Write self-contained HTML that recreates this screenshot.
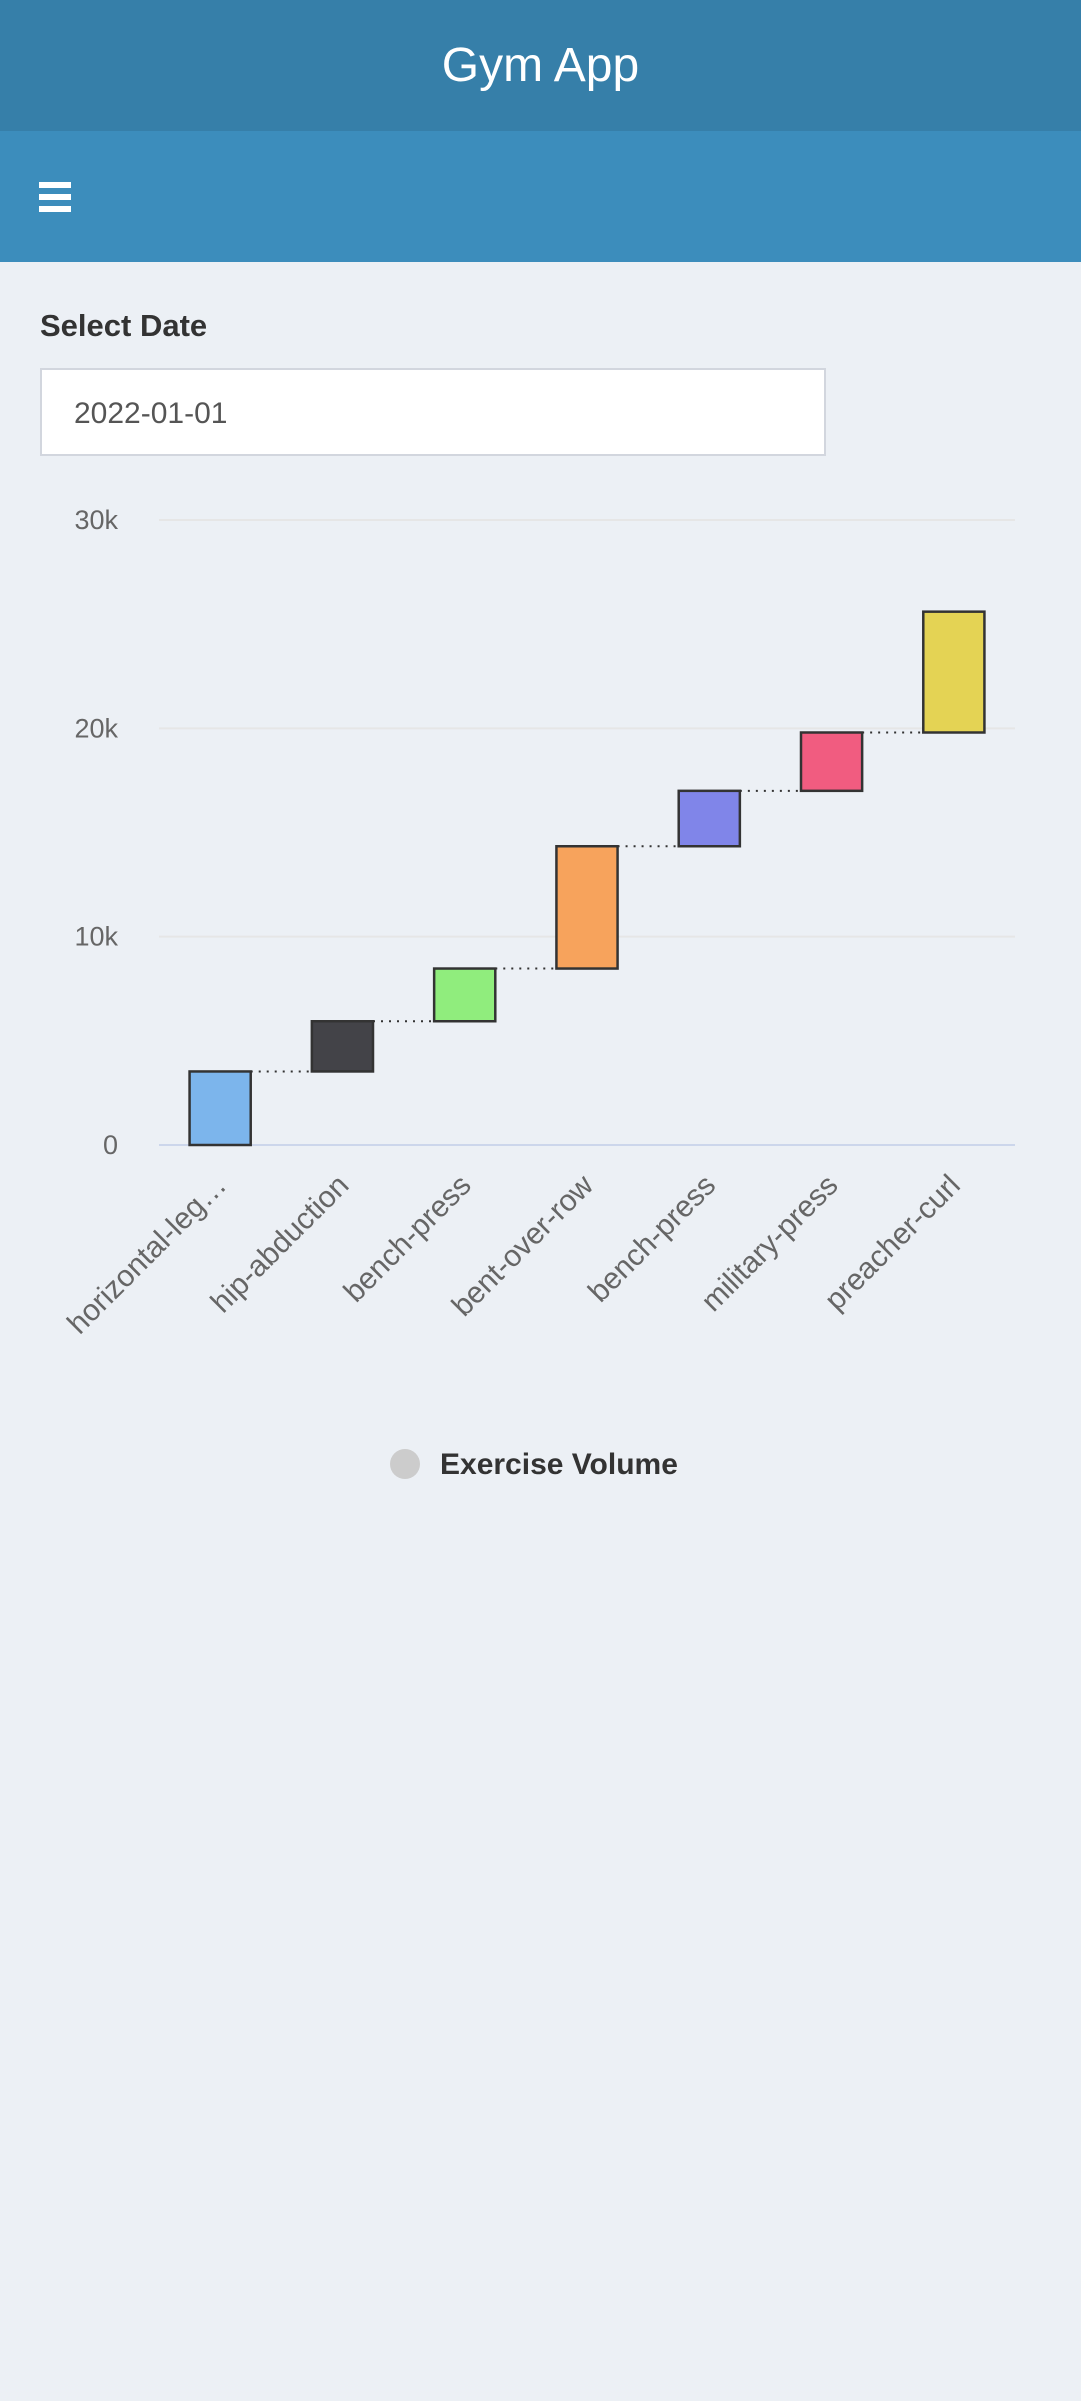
<!DOCTYPE html>
<html><head><meta charset="utf-8"><style>
html,body{margin:0;padding:0;width:1081px;height:2404px;background:#fff;overflow:hidden;font-family:"Liberation Sans",sans-serif}
#page{position:absolute;left:0;top:0;width:1081px;height:2401px;background:#ecf0f5}
#hdr{position:absolute;left:0;top:0;width:1081px;height:131px;background:#367fa9;color:#fff;font-size:48px;text-align:center;line-height:131px}
#nav{position:absolute;left:0;top:131px;width:1081px;height:131px;background:#3c8dbc}
#burger{position:absolute;left:39px;top:182px;width:32px;height:30px}
#burger div{height:6px;background:#fff;margin-bottom:6px}
#lbl{position:absolute;left:40px;top:308px;font-size:31px;font-weight:bold;color:#333}
#inp{position:absolute;left:40px;top:368px;width:786px;height:88px;background:#fff;border:2px solid #d2d6de;font-size:30px;color:#555;line-height:88px;padding-left:32px;box-sizing:border-box}
svg{position:absolute;left:0;top:0}
</style></head><body>
<div id="page">
<div id="hdr">Gym App</div>
<div id="nav"></div>
<div id="burger"><div></div><div></div><div></div></div>
<div id="lbl">Select Date</div>
<div id="inp">2022-01-01</div>
<svg id="chart" width="1081" height="2404"></svg>
</div>
<script>
const categories=["horizontal-leg…","hip-abduction","bench-press","bent-over-row","bench-press","military-press","preacher-curl"];
const deltas=[3530,2410,2530,5870,2660,2800,5800];
const colors=["#7cb5ec","#434348","#90ed7d","#f7a35c","#8085e9","#f15c80","#e4d354"];
const yTicks=[0,10000,20000,30000];
const yTickLabels=["0","10k","20k","30k"];
const NS="http://www.w3.org/2000/svg";
const svg=document.getElementById('chart');
const x0=159,x1=1015,yTop=520,yBot=1145,yMax=30000;
const band=(x1-x0)/categories.length;
function y(v){return yBot-(v/yMax)*(yBot-yTop);}
function xc(i){return x0+band*(i+0.5);}
function mk(t,a){const e=document.createElementNS(NS,t);for(const k in a)e.setAttribute(k,a[k]);svg.appendChild(e);return e;}
yTicks.forEach((v,i)=>{
  const g=mk('line',{x1:x0,x2:x1,y1:y(v),y2:y(v),stroke:i===0?'#ccd6eb':'#e6e6e6','stroke-width':2});
  
  
  const t=mk('text',{x:118,y:y(v)+9,'text-anchor':'end','font-size':27,fill:'#666','font-family':'Liberation Sans, sans-serif'});
  t.textContent=yTickLabels[i];
  
  
});
let cum=0;const bw=band*0.5;
deltas.forEach((d,i)=>{
  const lo=cum,hi=cum+d;cum=hi;
  const r=mk('rect',{x:xc(i)-bw/2,y:y(hi),width:bw,height:y(lo)-y(hi),fill:colors[i],stroke:'#333','stroke-width':2.5});
  
  
  if(i<deltas.length-1){
    const c=mk('line',{x1:xc(i)+bw/2,x2:xc(i+1)-bw/2,y1:y(hi),y2:y(hi),stroke:'#333','stroke-width':2,'stroke-dasharray':'2,6'});
    
    
  }
  const tx=xc(i)+8,ty=yBot+42;
  const t=mk('text',{x:tx,y:ty,'text-anchor':'end','font-size':30,fill:'#666','font-family':'Liberation Sans, sans-serif',transform:'rotate(-45 '+tx+' '+ty+')'});
  t.textContent=categories[i];
  
  
});
const lc=mk('circle',{cx:405,cy:1464,r:15,fill:'#ccc'});


const lt=mk('text',{x:440,y:1474,'font-size':30,'font-weight':'bold',fill:'#333','font-family':'Liberation Sans, sans-serif'});
lt.textContent='Exercise Volume';


</script>
</body></html>
